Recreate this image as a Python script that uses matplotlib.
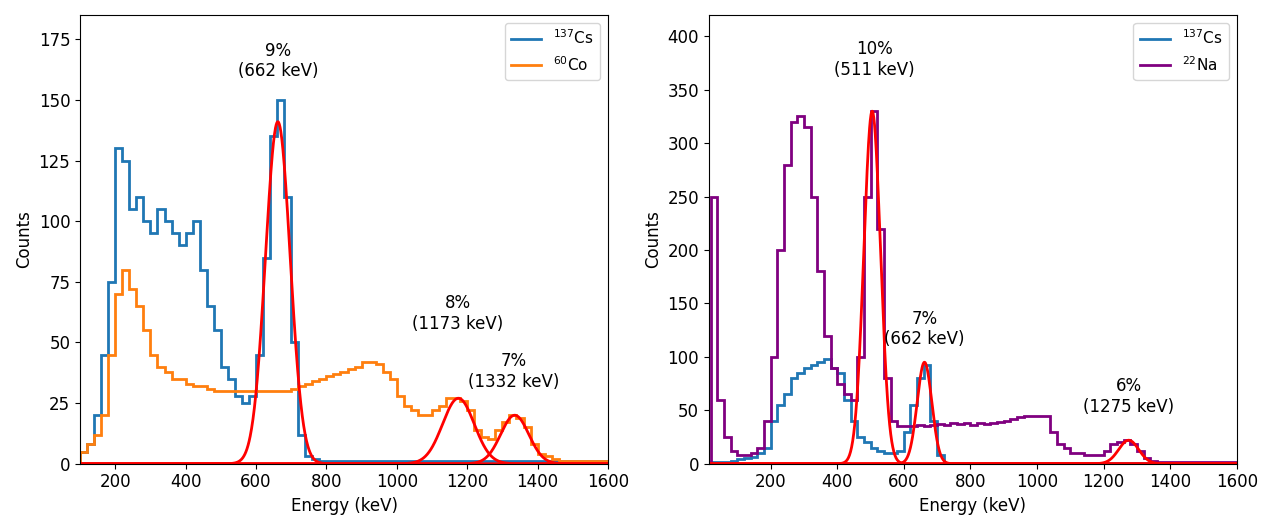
import numpy as np
import matplotlib
matplotlib.use("Agg")
import matplotlib.pyplot as plt

# Left panel: 20 keV bins from 100 to 1600
edges_l = np.arange(100, 1601, 20)
cs_left = [5,8,20,45,75,130,125,105,110,100,95,105,100,95,90,95,100,80,65,55,
           40,35,28,25,28,45,85,135,150,110,50,12,3,2,1,1,1,1,1,1,
           1,1,1,1,1,1,1,1,1,1,1,1,1,1,1,1,1,1,1,1,1,1,1,1,1,1,1,1,1,1,1,1,1,1,1]
co_left = [5,8,12,20,45, 70,80,72,65,55,45,40,38,35,35,33,32,32,31,30,
           30,30,30,30,30,30,30,30,30,30, 31,32,33,34,35,36,37,38,39,40,
           42,42,41,38,35,28,24,22,20,20,22,24,27,27,26,22,14,11,10,14,
           17,20,19,15,8,4,3,2, 1,1,1,1,1,1,1]
# Right panel: 20 keV bins from 20 to 1600
edges_r = np.arange(20, 1601, 20)
cs_right = [2,2,2,3,4,5,6,10,15,40,55,65,80,85,90,92,95,98,90,85,
            60,40,25,20,15,12,10,10,12,30,55,80,92,40,8] + [1] * 44
na_right = [250,60,25,12,8,8,10,15,40,100,200,280,320,325,315,250,180,120,90,75,
            65,60,100,250,330,220,80,40,35,
            35,35,36,35,36,37,36,38,37,38,36,38,37,38,39,
            40,42,44,45,45,45,45,30,18,15,10,10,8,8,8,12,18,20,22,18,12,5,3] + [2] * 12
# Gaussian fits: amplitude, centre, sigma
fits_left = [(141, 662, 35), (27, 1175, 45), (20, 1335, 40)]
fits_right = [(330, 505, 25), (95, 662, 22), (22, 1275, 30)]

def gauss(x, a, m, s):
    return a * np.exp(-0.5 * ((x - m) / s) ** 2)

blue, orange, purple = '#1f77b4', '#ff7f0e', '#800080'
fig, (ax1, ax2) = plt.subplots(1, 2, figsize=(12.73, 5.3), dpi=100)

ax1.stairs(cs_left, edges_l, color=blue, lw=2, label=r'$^{137}$Cs')
ax1.stairs(co_left, edges_l, color=orange, lw=2, label=r'$^{60}$Co')
x = np.linspace(100, 1600, 1500)
for a, m, s in fits_left:
    ax1.plot(x, gauss(x, a, m, s), color='red', lw=2)
ax1.set_xlim(100, 1600); ax1.set_ylim(0, 185)
ax1.text(662, 158, '9%\n(662 keV)', ha='center', va='bottom', fontsize=12)
ax1.text(1173, 54, '8%\n(1173 keV)', ha='center', va='bottom', fontsize=12)
ax1.text(1332, 30, '7%\n(1332 keV)', ha='center', va='bottom', fontsize=12)
ax1.legend(loc='upper right', fontsize=11)

ax2.stairs(cs_right, edges_r, color=blue, lw=2, label=r'$^{137}$Cs')
ax2.stairs(na_right, edges_r, color=purple, lw=2, label=r'$^{22}$Na')
x = np.linspace(15, 1600, 1500)
for a, m, s in fits_right:
    ax2.plot(x, gauss(x, a, m, s), color='red', lw=2)
ax2.set_xlim(15, 1600); ax2.set_ylim(0, 420)
ax2.set_xticks(range(200, 1601, 200))
ax2.text(511, 360, '10%\n(511 keV)', ha='center', va='bottom', fontsize=12)
ax2.text(662, 108, '7%\n(662 keV)', ha='center', va='bottom', fontsize=12)
ax2.text(1275, 45, '6%\n(1275 keV)', ha='center', va='bottom', fontsize=12)
ax2.legend(loc='upper right', fontsize=11)

for ax in (ax1, ax2):
    ax.set_xlabel('Energy (keV)', fontsize=12)
    ax.set_ylabel('Counts', fontsize=12)
    ax.tick_params(labelsize=12)
plt.tight_layout()
fig.savefig('out.png')
